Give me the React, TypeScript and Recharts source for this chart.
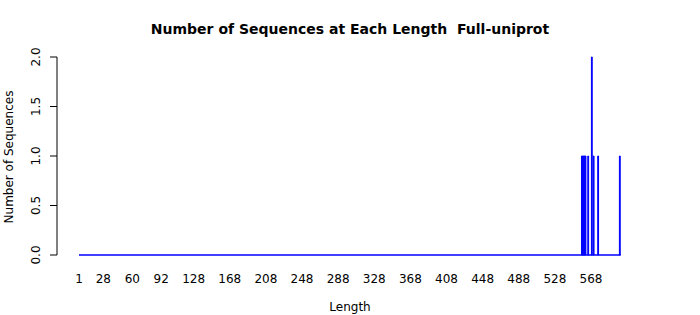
import React from 'react';
import { BarChart, Bar, XAxis, YAxis, ReferenceLine, Customized } from 'recharts';

// sequence lengths that occur, and how many sequences have each
const lengths = [558, 559, 560, 561, 562, 565, 569, 571, 576, 600];
const counts = [1, 1, 1, 1, 1, 1, 2, 1, 1, 1];

const xTicks = [1, 28, 60, 92, 128, 168, 208, 248, 288, 328, 368, 408, 448, 488, 528, 568];
const yTicks = [0, 0.5, 1, 1.5, 2];

const data = lengths.map((len, i) => ({ length: len, count: counts[i] }));

const FONT = '"DejaVu Sans", Verdana, sans-serif';

const XTick = (props: any) => {
  const { x, payload } = props;
  return (
    <text x={x} y={279} textAnchor="middle" dominantBaseline="central" fontSize={12} fontFamily={FONT} fill="#000">
      {payload.value}
    </text>
  );
};

const YTick = (props: any) => {
  const { y, payload } = props;
  return (
    <text
      x={36}
      y={y}
      transform={`rotate(-90, 36, ${y})`}
      textAnchor="middle"
      dominantBaseline="central"
      fontSize={12}
      fontFamily={FONT}
      fill="#000"
    >
      {payload.value.toFixed(1)}
    </text>
  );
};

const Labels = () => (
  <g fontFamily={FONT} fill="#000">
    <text x={350} y={29} textAnchor="middle" dominantBaseline="central" fontSize={14} fontWeight="bold" style={{ whiteSpace: 'pre' }}>
      Number of Sequences at Each Length  Full-uniprot
    </text>
    <text x={350} y={307} textAnchor="middle" dominantBaseline="central" fontSize={12}>
      Length
    </text>
    <text x={9} y={157} transform="rotate(-90, 9, 157)" textAnchor="middle" dominantBaseline="central" fontSize={12}>
      Number of Sequences
    </text>
  </g>
);

export default function App() {
  return (
    <div style={{ position: 'absolute', left: 0, top: 0, background: '#fff' }}>
      <BarChart width={700} height={315} data={data} margin={{ top: 57, right: 61, left: 12, bottom: 10 }}>
        <XAxis
          dataKey="length"
          type="number"
          domain={[-23.36, 621.2]}
          allowDataOverflow
          ticks={xTicks}
          interval={0}
          axisLine={false}
          tickLine={false}
          tick={<XTick />}
          height={50}
        />
        <YAxis
          type="number"
          domain={[0, 2]}
          ticks={yTicks}
          width={45}
          tickSize={7}
          axisLine={{ stroke: '#000' }}
          tickLine={{ stroke: '#000' }}
          tick={<YTick />}
        />
        <ReferenceLine segment={[{ x: 1, y: 0 }, { x: 601, y: 0 }]} stroke="#0000ff" strokeWidth={1.3} ifOverflow="extendDomain" />
        <Bar dataKey="count" fill="#0000ff" stroke="#0000ff" strokeWidth={1} barSize={1.8} isAnimationActive={false} />
        <Customized component={Labels} />
      </BarChart>
    </div>
  );
}
